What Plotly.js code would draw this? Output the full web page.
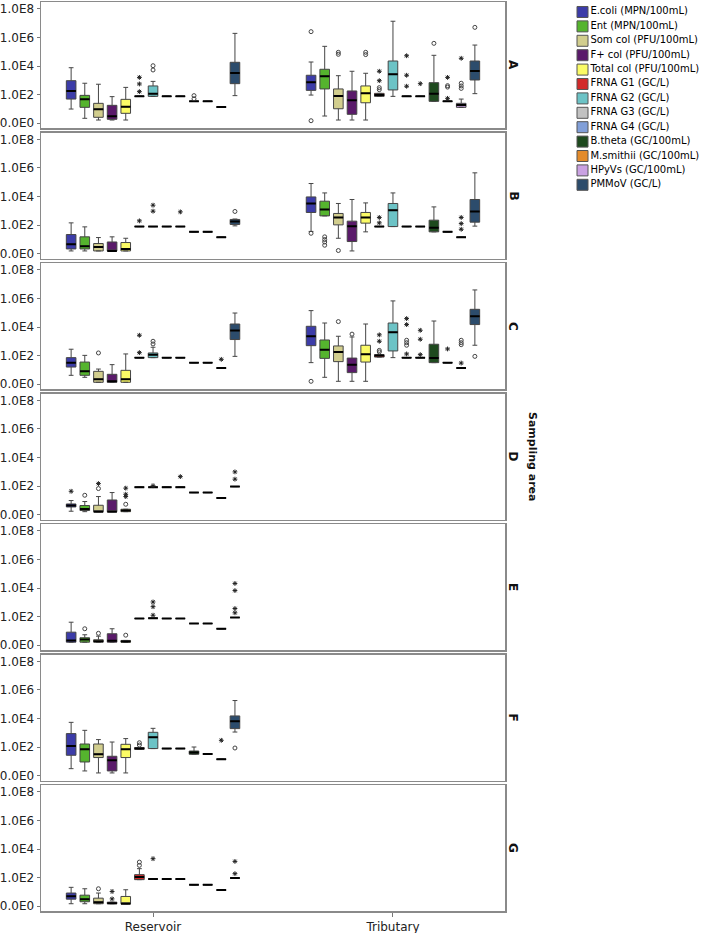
<!DOCTYPE html>
<html><head><meta charset="utf-8">
<script src="https://cdn.plot.ly/plotly-3.0.1.min.js"></script>
<style>html,body{margin:0;padding:0;background:#fff}#chart{width:703px;height:933px}</style>
</head><body><div id="chart"></div>
<script>
const panels = ['A','B','C','D','E','F','G'];
const categories = ['Reservoir','Tributary'];
const seriesNames = ['E.coli (MPN/100mL)','Ent (MPN/100mL)','Som col (PFU/100mL)','F+ col (PFU/100mL)','Total col (PFU/100mL)','FRNA G1 (GC/L)','FRNA G2 (GC/L)','FRNA G3 (GC/L)','FRNA G4 (GC/L)','B.theta (GC/100mL)','M.smithii (GC/100mL)','HPyVs (GC/100mL)','PMMoV (GC/L)'];
const seriesColors = ['#3c3ca8','#55b42e','#d2ce8e','#5a1a6a','#fbfb66','#d22a2a','#6cc3c6','#c2c2c2','#819fd8','#1e4a1e','#e38b2b','#caa2e2','#2c4c6c'];
const yTickVals = [0,2,4,6,8];
const yTickText = ['0.0E0','1.0E2','1.0E4','1.0E6','1.0E8'];
const axisTitle = 'Sampling area';

// box statistics, log10 units: [lowerfence, q1, median, q3, upperfence], one row per series
const A_Reservoir = [[0.98,1.68,2.25,2.97,3.88],[0.33,1.10,1.66,1.94,2.79],[0.21,0.40,0.96,1.38,2.72],[0.21,0.26,0.47,1.24,1.85],[0.21,0.68,1.14,1.66,2.50],[1.87,1.87,1.87,1.87,1.87],[1.87,1.87,2.06,2.60,2.92],[1.87,1.87,1.87,1.87,1.87],[1.87,1.87,1.87,1.87,1.87],[1.52,1.52,1.52,1.52,1.52],[1.52,1.52,1.52,1.52,1.52],[1.12,1.12,1.12,1.12,1.12],[1.92,2.76,3.51,4.26,6.29]];
const A_Tributary = [[1.96,2.29,2.86,3.35,4.28],[0.49,2.39,3.28,3.77,5.38],[0.21,1.00,1.89,2.39,3.32],[0.21,0.61,1.59,2.25,3.63],[0.21,1.42,2.08,2.60,3.49],[1.87,1.87,1.96,2.08,2.08],[1.87,2.32,3.42,4.35,7.14],[1.87,1.87,1.87,1.87,1.87],[1.87,1.87,1.87,1.87,1.87],[1.52,1.52,2.06,2.83,4.75],[1.52,1.52,1.52,1.52,1.52],[1.10,1.10,1.26,1.38,1.68],[2.06,3.02,3.65,4.35,5.47]];
const B_Reservoir = [[0.18,0.32,0.65,1.33,2.15],[0.18,0.32,0.51,1.17,1.87],[0.18,0.18,0.46,0.70,1.12],[0.18,0.18,0.18,0.81,1.17],[0.18,0.18,0.32,0.77,1.07],[1.89,1.89,1.89,1.89,1.89],[1.89,1.89,1.89,1.89,1.89],[1.89,1.89,1.89,1.89,1.89],[1.89,1.89,1.89,1.89,1.89],[1.52,1.52,1.52,1.52,1.52],[1.52,1.52,1.52,1.52,1.52],[1.14,1.14,1.14,1.14,1.14],[1.94,2.04,2.25,2.39,2.42]];
const B_Tributary = [[1.55,2.88,3.50,3.97,4.91],[2.64,2.64,3.09,3.67,4.25],[1.07,2.01,2.53,2.81,3.51],[0.18,0.84,1.92,2.27,3.79],[1.52,2.13,2.53,2.88,3.55],[1.89,1.89,1.89,1.89,1.89],[1.89,1.89,3.04,3.51,4.25],[1.89,1.89,1.89,1.89,1.89],[1.89,1.89,1.89,1.89,1.89],[1.52,1.52,1.80,2.34,3.27],[1.52,1.52,1.52,1.52,1.52],[1.14,1.14,1.14,1.14,1.14],[1.92,2.20,2.95,3.79,5.66]];
const C_Reservoir = [[0.61,1.19,1.50,1.85,2.44],[0.47,0.61,0.89,1.54,2.01],[0.12,0.12,0.33,0.89,1.05],[0.12,0.12,0.19,0.68,1.36],[0.12,0.12,0.33,0.96,2.11],[1.85,1.85,1.85,1.85,1.85],[1.85,1.85,2.06,2.18,2.58],[1.85,1.85,1.85,1.85,1.85],[1.85,1.85,1.85,1.85,1.85],[1.50,1.50,1.50,1.50,1.50],[1.50,1.50,1.50,1.50,1.50],[1.12,1.12,1.12,1.12,1.12],[1.94,3.12,3.75,4.21,4.98]];
const C_Tributary = [[1.50,2.69,3.35,4.05,5.15],[0.47,1.80,2.41,3.09,4.28],[0.19,1.57,2.25,2.67,3.35],[0.19,0.80,1.36,1.82,3.30],[0.19,1.54,2.08,2.72,4.21],[1.89,1.89,2.00,2.06,2.06],[1.85,2.32,3.63,4.28,5.83],[1.85,1.85,1.85,1.85,1.85],[1.85,1.85,1.85,1.85,1.85],[1.50,1.50,1.82,2.79,4.42],[1.50,1.50,1.50,1.50,1.50],[1.12,1.12,1.12,1.12,1.12],[2.72,4.17,4.75,5.24,6.60]];
const D_Reservoir = [[0.23,0.53,0.63,0.74,0.98],[0.20,0.28,0.39,0.63,0.91],[0.20,0.20,0.20,0.65,1.26],[0.20,0.20,0.20,1.02,1.54],[0.20,0.20,0.28,0.37,0.37],[1.92,1.92,1.92,1.92,1.92],[1.92,1.92,1.92,1.92,1.92],[1.92,1.92,1.92,1.92,1.92],[1.92,1.92,1.92,1.92,1.92],[1.54,1.54,1.54,1.54,1.54],[1.54,1.54,1.54,1.54,1.54],[1.16,1.16,1.16,1.16,1.16],[1.96,1.96,1.96,1.96,1.96]];
const E_Reservoir = [[0.20,0.20,0.32,0.90,1.60],[0.20,0.20,0.39,0.51,0.72],[0.20,0.20,0.27,0.37,0.62],[0.20,0.20,0.30,0.79,1.14],[0.20,0.20,0.25,0.32,0.32],[1.86,1.86,1.86,1.86,1.86],[1.88,1.88,1.88,1.88,1.88],[1.86,1.86,1.86,1.86,1.86],[1.86,1.86,1.86,1.86,1.86],[1.51,1.51,1.51,1.51,1.51],[1.51,1.51,1.51,1.51,1.51],[1.14,1.14,1.14,1.14,1.14],[1.93,1.93,1.93,1.93,1.93]];
const F_Reservoir = [[0.48,1.42,2.07,2.94,3.73],[0.32,0.95,1.84,2.21,3.17],[0.18,1.26,1.50,2.21,2.52],[0.18,0.32,1.07,1.35,2.35],[0.18,1.26,1.84,2.19,2.59],[1.84,1.84,1.89,1.96,1.96],[1.89,1.89,2.68,3.03,3.31],[1.89,1.89,1.89,1.89,1.89],[1.89,1.89,1.89,1.89,1.89],[1.49,1.49,1.61,1.72,2.00],[1.51,1.51,1.51,1.51,1.51],[1.14,1.14,1.14,1.14,1.14],[3.05,3.29,3.80,4.18,5.26]];
const G_Reservoir = [[0.16,0.48,0.69,0.91,1.31],[0.16,0.30,0.48,0.76,1.21],[0.16,0.16,0.27,0.55,0.91],[0.16,0.16,0.20,0.27,0.27],[0.16,0.16,0.16,0.67,1.14],[1.85,1.85,2.03,2.20,2.62],[1.89,1.89,1.89,1.89,1.89],[1.89,1.89,1.89,1.89,1.89],[1.89,1.89,1.89,1.89,1.89],[1.49,1.49,1.49,1.49,1.49],[1.49,1.49,1.49,1.49,1.49],[1.12,1.12,1.12,1.12,1.12],[1.96,1.96,1.96,1.96,1.96]];

// outliers: [series index, log10 value, 'o' = outlier circle, '*' = extreme]
const A_Reservoir_out = [[5,3.20,'*'],[5,2.74,'*'],[5,2.20,'*'],[6,4.02,'o'],[6,3.72,'o'],[9,1.92,'o'],[9,1.70,'o']];
const A_Tributary_out = [[0,6.41,'o'],[0,0.16,'o'],[2,4.96,'o'],[2,4.82,'o'],[4,4.96,'o'],[4,4.80,'o'],[5,3.63,'*'],[5,2.97,'*'],[5,2.48,'o'],[5,2.34,'o'],[7,4.72,'*'],[7,3.35,'*'],[7,2.58,'*'],[8,2.76,'*'],[9,5.59,'o'],[10,3.20,'*'],[10,2.62,'o'],[10,2.52,'o'],[10,1.73,'*'],[11,4.54,'*'],[11,2.79,'o'],[11,2.60,'o'],[11,2.43,'o'],[12,6.71,'o']];
const B_Reservoir_out = [[5,2.29,'*'],[6,3.39,'*'],[6,2.97,'*'],[8,2.92,'*'],[12,2.95,'o']];
const B_Tributary_out = [[0,1.42,'o'],[1,1.17,'o'],[1,0.98,'o'],[1,0.81,'o'],[1,0.58,'o'],[2,0.21,'o'],[5,2.53,'*'],[5,2.15,'*'],[11,2.53,'*'],[11,2.10,'*'],[11,1.70,'*']];
const C_Reservoir_out = [[2,2.18,'o'],[5,3.42,'*'],[5,2.20,'*'],[6,3.00,'o'],[6,2.81,'o'],[11,1.73,'*']];
const C_Tributary_out = [[0,0.19,'o'],[2,4.38,'o'],[3,3.50,'o'],[5,3.45,'*'],[5,3.00,'*'],[5,2.36,'o'],[5,2.25,'o'],[7,4.59,'*'],[7,4.17,'*'],[7,3.07,'o'],[7,2.90,'o'],[7,2.72,'o'],[7,2.11,'*'],[8,3.77,'*'],[8,3.14,'*'],[8,2.06,'*'],[10,2.46,'*'],[11,3.07,'o'],[11,2.90,'o'],[11,2.76,'o'],[11,1.47,'*'],[12,1.94,'o']];
const D_Reservoir_out = [[0,1.63,'*'],[1,1.35,'o'],[2,2.17,'*'],[2,1.82,'o'],[4,1.85,'*'],[4,1.42,'*'],[4,1.26,'*'],[4,0.72,'o'],[6,2.02,'*'],[8,2.66,'*'],[12,2.99,'*'],[12,2.48,'*']];
const E_Reservoir_out = [[1,1.14,'o'],[2,0.82,'o'],[4,0.69,'o'],[6,3.02,'*'],[6,2.69,'*'],[6,2.09,'*'],[12,4.32,'*'],[12,3.82,'*'],[12,2.56,'*'],[12,2.26,'*']];
const F_Reservoir_out = [[5,2.30,'o'],[5,2.14,'o'],[11,2.47,'*'],[12,1.93,'o']];
const G_Reservoir_out = [[2,1.21,'o'],[3,1.02,'*'],[3,0.50,'*'],[5,3.08,'o'],[5,2.85,'o'],[6,3.32,'*'],[12,3.13,'*'],[12,2.27,'*']];

const panelStats = [[A_Reservoir,A_Tributary],[B_Reservoir,B_Tributary],[C_Reservoir,C_Tributary],[D_Reservoir,null],[E_Reservoir,null],[F_Reservoir,null],[G_Reservoir,null]];
const panelOut = [[A_Reservoir_out,A_Tributary_out],[B_Reservoir_out,B_Tributary_out],[C_Reservoir_out,C_Tributary_out],[D_Reservoir_out,[]],[E_Reservoir_out,[]],[F_Reservoir_out,[]],[G_Reservoir_out,[]]];

const nS = seriesNames.length;
const groupStep = 0.0569;
const boxW = 0.04;
const posOf = (c, i) => c + (i - (nS - 1) / 2) * groupStep;

const FONT = 'DejaVu Sans, sans-serif';
const traces = [];
const layout = {
  width: 703, height: 933,
  margin: {l: 41, r: 3, t: 2, b: 22},
  paper_bgcolor: '#fff', plot_bgcolor: '#fff',
  showlegend: false, hovermode: false,
  font: {family: FONT, size: 12, color: '#222'},
  annotations: [], shapes: []
};
const H = 909, BOT = 911;
const pix2paper = p => (BOT - p) / H;
const xDomain = [0, 464 / 659];

panels.forEach((p, k) => {
  const sfx = k === 0 ? '' : String(k + 1);
  const top = 2 + 130.5 * k, bot = top + 126;
  layout['yaxis' + sfx] = {
    domain: [pix2paper(bot), pix2paper(top)], range: [-0.35, 8.49],
    tickvals: yTickVals, ticktext: yTickText, ticks: 'outside', ticklen: 3, tickcolor: '#777',
    showline: true, mirror: true, linecolor: '#8a8a8a', linewidth: 1.5,
    showgrid: false, zeroline: false, anchor: 'x' + sfx, fixedrange: true,
    tickfont: {family: FONT, size: 12, color: '#222'}
  };
  const last = k === panels.length - 1;
  layout['xaxis' + sfx] = {
    domain: xDomain, range: [-0.467, 1.467],
    tickvals: [0, 1], ticktext: categories, showticklabels: last,
    ticks: last ? 'outside' : '', ticklen: 4, tickcolor: '#777',
    showline: true, mirror: true, linecolor: '#8a8a8a', linewidth: 1.5,
    showgrid: false, zeroline: false, anchor: 'y' + sfx, fixedrange: true,
    tickfont: {family: FONT, size: 12, color: '#222'}
  };
  for (let i = 0; i < nS; i++) {
    const xs = [], lo = [], q1 = [], md = [], q3 = [], hi = [];
    panelStats[k].forEach((arr, c) => {
      if (!arr || !arr[i]) return;
      xs.push(posOf(c, i));
      lo.push(arr[i][0]); q1.push(arr[i][1]); md.push(arr[i][2]); q3.push(arr[i][3]); hi.push(arr[i][4]);
    });
    if (!xs.length) continue;
    traces.push({type: 'box', x: xs, q1: q1, median: md, q3: q3, lowerfence: lo, upperfence: hi,
      width: boxW, whiskerwidth: 0.5, boxpoints: false, fillcolor: seriesColors[i],
      line: {color: '#454545', width: 1}, xaxis: 'x' + sfx, yaxis: 'y' + sfx, hoverinfo: 'skip', showlegend: false});
    traces.push({type: 'box', x: xs, q1: md, median: md, q3: md, lowerfence: md, upperfence: md,
      width: boxW, whiskerwidth: 0, boxpoints: false, fillcolor: 'rgba(0,0,0,0)',
      line: {color: '#000', width: 2}, xaxis: 'x' + sfx, yaxis: 'y' + sfx, hoverinfo: 'skip', showlegend: false});
  }
  ['o', '*'].forEach(kind => {
    const xs = [], ys = [];
    panelOut[k].forEach((arr, c) => arr.forEach(o => { if (o[2] === kind) { xs.push(posOf(c, o[0])); ys.push(o[1]); } }));
    if (!xs.length) return;
    traces.push({type: 'scatter', mode: 'markers', x: xs, y: ys, xaxis: 'x' + sfx, yaxis: 'y' + sfx,
      marker: kind === 'o' ? {symbol: 'circle-open', size: 4, color: '#444', line: {width: 1, color: '#444'}}
                           : {symbol: 'asterisk-open', size: 4, color: '#222', line: {width: 1, color: '#222'}},
      hoverinfo: 'skip', showlegend: false, cliponaxis: false});
  });
  layout.annotations.push({xref: 'paper', yref: 'paper', x: (513 - 41) / 659, y: pix2paper((top + bot) / 2),
    text: '<b>' + p + '</b>', showarrow: false, textangle: 90, xanchor: 'center', yanchor: 'middle',
    font: {family: FONT, size: 12, color: '#111'}});
});
layout.annotations.push({xref: 'paper', yref: 'paper', x: (533 - 41) / 659, y: pix2paper(457),
  text: '<b>' + axisTitle + '</b>', showarrow: false, textangle: 90, xanchor: 'center', yanchor: 'middle',
  font: {family: FONT, size: 11, color: '#111'}});

// legend drawn as a scatter on its own hidden axes
layout.xaxis8 = {domain: [(577 - 41) / 659, 1], range: [-5.5, 117.5], visible: false, anchor: 'y8', fixedrange: true};
layout.yaxis8 = {domain: [0, 1], range: [62.43, -0.694], visible: false, anchor: 'x8', fixedrange: true};
traces.push({type: 'scatter', mode: 'markers+text', x: seriesNames.map(() => 0), y: seriesNames.map((_, i) => i),
  text: seriesNames, textposition: 'middle right', textfont: {family: FONT, size: 10, color: '#000'},
  marker: {symbol: 'square', size: 11, color: seriesColors, line: {width: 1, color: '#555'}},
  xaxis: 'x8', yaxis: 'y8', hoverinfo: 'skip', showlegend: false, cliponaxis: false});

Plotly.newPlot('chart', traces, layout, {staticPlot: true, displayModeBar: false});
</script></body></html>
